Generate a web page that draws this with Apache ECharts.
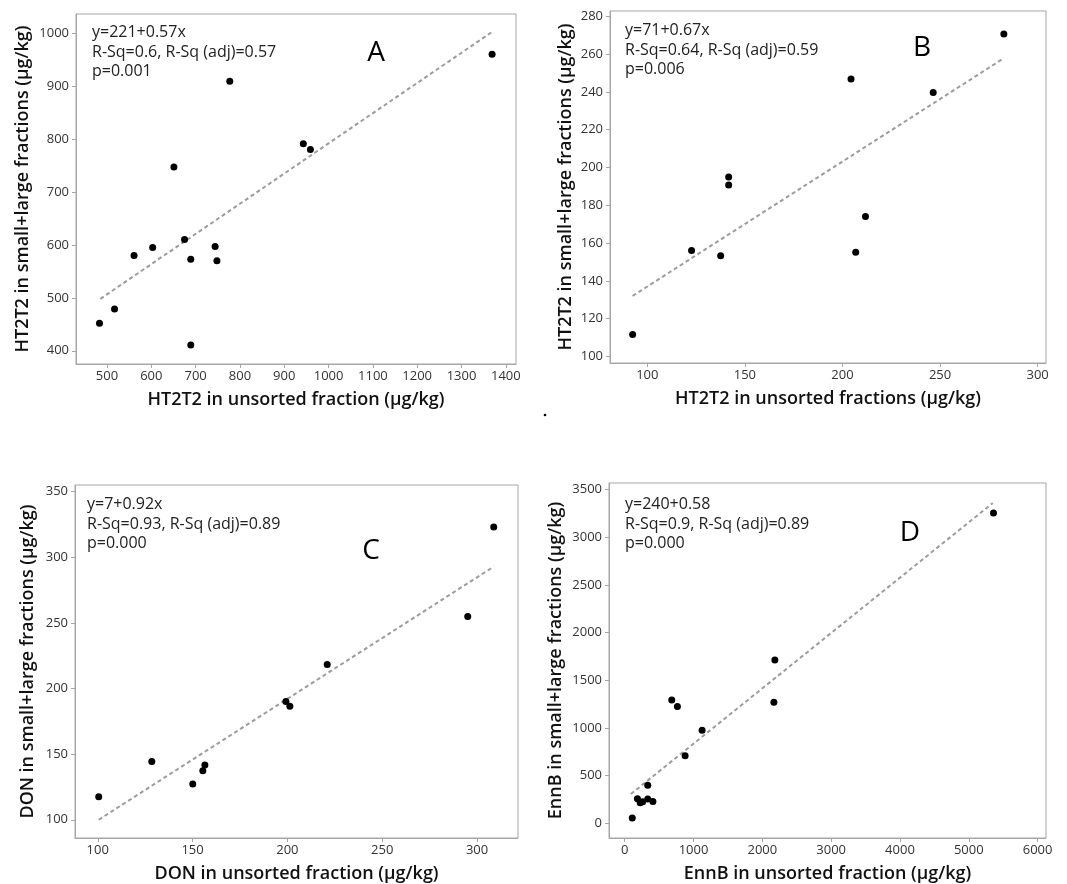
<!DOCTYPE html>
<html>
<head>
<meta charset="utf-8">
<title>Sorted vs unsorted fractions</title>
<script src="https://cdn.jsdelivr.net/npm/echarts@6/dist/echarts.min.js"></script>
<style>
  html, body { margin: 0; padding: 0; background: #fff; }
  #chart { width: 1067px; height: 884px; }
</style>
</head>
<body>
<div id="chart"></div>
<script>
// panel A - HT2T2, unsorted fraction vs small+large fractions
var pointsA = [
  [483, 452], [517, 479], [561, 580], [603, 595], [651, 747], [675, 610], [689, 573],
  [689, 411], [744, 597], [748, 570], [777, 909], [943, 791], [959, 780], [1369, 960]
];
var fitA = [[485, 498], [1367, 1001]];
var ticksAx = [500, 600, 700, 800, 900, 1000, 1100, 1200, 1300, 1400];
var ticksAy = [400, 500, 600, 700, 800, 900, 1000];

// panel B - HT2T2, unsorted fractions
var pointsB = [
  [92.5, 111.6], [122.7, 156], [137.6, 153.2], [141.7, 194.9], [141.7, 190.7],
  [204.4, 246.8], [206.8, 155.1], [211.8, 174.1], [246.5, 239.6], [282.7, 270.6]
];
var fitB = [[92.5, 132], [282.2, 257.5]];
var ticksBx = [100, 150, 200, 250, 300];
var ticksBy = [100, 120, 140, 160, 180, 200, 220, 240, 260, 280];

// panel C - DON
var pointsC = [
  [100.5, 117.5], [128.5, 144.4], [150.1, 127.2], [155.4, 137.3], [156.5, 141.8],
  [199.2, 190.1], [201.3, 186.5], [221, 218.3], [295.1, 254.8], [308.8, 323.1]
];
var fitC = [[100.5, 100], [308.8, 292.9]];
var ticksCx = [100, 150, 200, 250, 300];
var ticksCy = [100, 150, 200, 250, 300, 350];

// panel D - EnnB
var pointsD = [
  [110, 56], [185, 258], [225, 215], [260, 225], [335, 255], [335, 400], [410, 228],
  [684, 1294], [766, 1225], [878, 708], [1125, 977], [2168, 1270], [2182, 1713], [5359, 3255]
];
var fitD = [[90, 307], [5349, 3360]];
var ticksDx = [0, 1000, 2000, 3000, 4000, 5000, 6000];
var ticksDy = [0, 500, 1000, 1500, 2000, 2500, 3000, 3500];

var FONT = "'Open Sans', 'Noto Sans', sans-serif";
var BOX = '#a6a6a6';

var panels = [
  { grid: { left: 76, top: 14, width: 440, height: 350 },
    x: [430, 1423], y: [375, 1036], tx: ticksAx, ty: ticksAy,
    xName: 'HT2T2 in unsorted fraction (µg/kg)', yName: 'HT2T2 in small+large fractions (µg/kg)',
    xGap: 27, yGap: 44, pts: pointsA, fit: fitA },
  { grid: { left: 610, top: 11, width: 436, height: 352 },
    x: [80.9, 304.3], y: [96.5, 282.8], tx: ticksBx, ty: ticksBy,
    xName: 'HT2T2 in unsorted fractions (µg/kg)', yName: 'HT2T2 in small+large fractions (µg/kg)',
    xGap: 27, yGap: 35, pts: pointsB, fit: fitB },
  { grid: { left: 75, top: 485, width: 443, height: 353 },
    x: [88, 321.6], y: [86.1, 355.1], tx: ticksCx, ty: ticksCy,
    xName: 'DON in unsorted fraction (µg/kg)', yName: 'DON in small+large fractions (µg/kg)',
    xGap: 27, yGap: 38, pts: pointsC, fit: fitC },
  { grid: { left: 609, top: 483, width: 437, height: 356 },
    x: [-228, 6122], y: [-154, 3570], tx: ticksDx, ty: ticksDy,
    xName: 'EnnB in unsorted fraction (µg/kg)', yName: 'EnnB in small+large fractions (µg/kg)',
    xGap: 27, yGap: 44, pts: pointsD, fit: fitD }
];

// annotation text: regression summary and panel letter
var notes = [
  { x: 92, y: 23, lines: ['y=221+0.57x', 'R-Sq=0.6, R-Sq (adj)=0.57', 'p=0.001'], letter: 'A', lx: 376, ly: 53 },
  { x: 625, y: 21, lines: ['y=71+0.67x', 'R-Sq=0.64, R-Sq (adj)=0.59', 'p=0.006'], letter: 'B', lx: 922, ly: 48 },
  { x: 87, y: 495, lines: ['y=7+0.92x', 'R-Sq=0.93, R-Sq (adj)=0.89', 'p=0.000'], letter: 'C', lx: 371, ly: 551 },
  { x: 625, y: 495, lines: ['y=240+0.58', 'R-Sq=0.9, R-Sq (adj)=0.89', 'p=0.000'], letter: 'D', lx: 910, ly: 533 }
];

function valueAxis(idx, range, ticks, name, gap, isX) {
  return {
    type: 'value',
    gridIndex: idx,
    min: range[0],
    max: range[1],
    name: name,
    nameLocation: 'middle',
    nameGap: gap,
    nameTextStyle: { fontFamily: FONT, fontSize: 18, fontWeight: 600, color: '#111' },
    axisLine: { show: true, onZero: false, lineStyle: { color: BOX, width: 1 } },
    axisTick: { show: true, customValues: ticks, length: 4, lineStyle: { color: BOX } },
    axisLabel: {
      customValues: ticks, fontFamily: FONT, fontSize: 13, color: '#333', margin: isX ? 6 : 7,
      formatter: function (v) { return String(v); }
    },
    splitLine: { show: false }
  };
}

var grids = [], xAxes = [], yAxes = [], series = [], graphics = [];
panels.forEach(function (p, i) {
  grids.push(Object.assign({ show: true, borderColor: BOX, borderWidth: 1, backgroundColor: '#fff' }, p.grid));
  xAxes.push(valueAxis(i, p.x, p.tx, p.xName, p.xGap, true));
  yAxes.push(valueAxis(i, p.y, p.ty, p.yName, p.yGap, false));
  series.push({
    type: 'line', xAxisIndex: i, yAxisIndex: i, data: p.fit,
    symbol: 'none', silent: true,
    lineStyle: { color: '#9c9c9c', width: 2, type: [4, 3] }, z: 2
  });
  series.push({
    type: 'scatter', xAxisIndex: i, yAxisIndex: i, data: p.pts,
    symbolSize: 7, itemStyle: { color: '#000', opacity: 1 }, z: 3
  });
});

notes.forEach(function (n) {
  graphics.push({
    type: 'text', left: n.x, top: n.y,
    style: { text: n.lines.join('\n'), font: '16px ' + FONT, lineHeight: 19.5, fill: '#222' }
  });
  graphics.push({
    type: 'text', x: n.lx, y: n.ly,
    style: { text: n.letter, font: '28px ' + FONT, fill: '#000', align: 'center', verticalAlign: 'middle' }
  });
});
// stray dot between the top panels
graphics.push({ type: 'circle', shape: { cx: 545, cy: 415, r: 1.3 }, style: { fill: '#000' } });

var myChart = echarts.init(document.getElementById('chart'));
myChart.setOption({
  animation: false,
  textStyle: { fontFamily: FONT },
  grid: grids,
  xAxis: xAxes,
  yAxis: yAxes,
  series: series,
  graphic: graphics
});
</script>
</body>
</html>
